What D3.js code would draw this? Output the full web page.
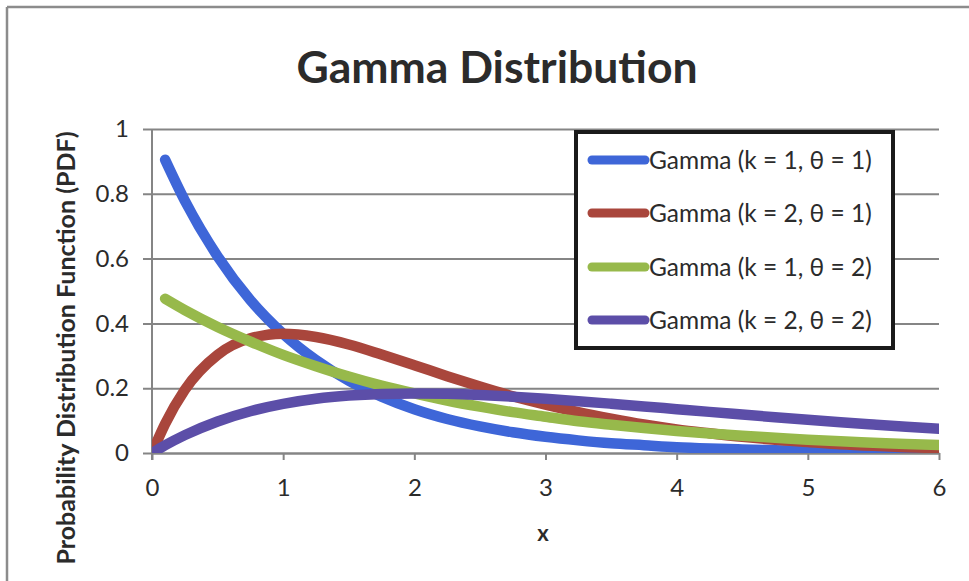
<!DOCTYPE html>
<html>
<head>
<meta charset="utf-8">
<script src="https://cdn.jsdelivr.net/npm/d3@7"></script>
<style>
  html, body { margin: 0; padding: 0; background: #fff; }
  svg { display: block; }
  text { font-family: Lato, "Open Sans", sans-serif; fill: #2b2b2b; }
</style>
</head>
<body>
<svg id="chart" width="969" height="581"></svg>
<script>
// Sample points along x
const xs = [0, 0.1, 0.25, 0.5, 0.75, 1, 1.25, 1.5, 1.75, 2, 2.25, 2.5, 2.75, 3,
            3.25, 3.5, 3.75, 4, 4.25, 4.5, 4.75, 5, 5.25, 5.5, 5.75, 6];

// PDF values per series (null = not plotted)
const gammaK1T1 = [null, 0.905, 0.779, 0.607, 0.472, 0.368, 0.287, 0.223, 0.174, 0.135,
                   0.105, 0.082, 0.064, 0.050, 0.039, 0.030, 0.024, 0.018, 0.014, 0.011,
                   0.0087, 0.0067, 0.0052, 0.0041, 0.0032, 0.0025];
const gammaK2T1 = [0, 0.090, 0.195, 0.303, 0.354, 0.368, 0.358, 0.335, 0.304, 0.271,
                   0.237, 0.205, 0.175, 0.149, 0.126, 0.106, 0.088, 0.073, 0.061, 0.050,
                   0.041, 0.034, 0.027, 0.022, 0.018, 0.015];
const gammaK1T2 = [null, 0.476, 0.441, 0.389, 0.344, 0.303, 0.268, 0.236, 0.208, 0.184,
                   0.162, 0.143, 0.126, 0.112, 0.098, 0.087, 0.077, 0.068, 0.060, 0.053,
                   0.047, 0.041, 0.036, 0.032, 0.028, 0.025];
const gammaK2T2 = [0, 0.0238, 0.0552, 0.0974, 0.1289, 0.1516, 0.1673, 0.1772, 0.1824, 0.1839,
                   0.1826, 0.1791, 0.1738, 0.1673, 0.1600, 0.1521, 0.1438, 0.1353, 0.1269, 0.1186,
                   0.1104, 0.1026, 0.0950, 0.0879, 0.0811, 0.0747];

const seriesNames = ["Gamma (k = 1, \u03b8 = 1)", "Gamma (k = 2, \u03b8 = 1)",
                     "Gamma (k = 1, \u03b8 = 2)", "Gamma (k = 2, \u03b8 = 2)"];
const seriesValues = [gammaK1T1, gammaK2T1, gammaK1T2, gammaK2T2];
const seriesColors = ["#3e66d8", "#a9463c", "#97b94b", "#5c4ea8"];

const xTicks = [0, 1, 2, 3, 4, 5, 6];
const yTicks = [0, 0.2, 0.4, 0.6, 0.8, 1];

const svg = d3.select("#chart");
const W = 969, H = 581;

// outer frame (top and left edges)
svg.append("line").attr("x1", 7).attr("y1", 7).attr("x2", W).attr("y2", 7)
  .attr("stroke", "#8c8c8c").attr("stroke-width", 2.5);
svg.append("line").attr("x1", 7).attr("y1", 7).attr("x2", 7).attr("y2", H)
  .attr("stroke", "#8c8c8c").attr("stroke-width", 2.5);

const plot = { left: 152, right: 939, top: 129, bottom: 453 };
const x = d3.scaleLinear().domain([0, 6]).range([plot.left, plot.right]);
const y = d3.scaleLinear().domain([0, 1]).range([plot.bottom, plot.top]);

// title
svg.append("text")
  .attr("x", 497).attr("y", 83)
  .attr("text-anchor", "middle")
  .style("font-size", "44.5px").style("font-weight", "bold")
  .text("Gamma Distribution");

// horizontal gridlines + y axis
const yAxis = d3.axisLeft(y).tickValues(yTicks)
  .tickSize(-(plot.right - plot.left)).tickSizeOuter(0)
  .tickFormat(d3.format("~g")).tickPadding(23);
const gy = svg.append("g").attr("transform", `translate(${plot.left},0)`).call(yAxis);
gy.select(".domain").remove();
gy.selectAll(".tick line")
  .attr("x1", -9)
  .attr("stroke", "#858585").attr("stroke-width", 2);
gy.selectAll(".tick text")
  .attr("fill", "#2b2b2b")
  .style("font-size", "24px").style("font-family", "Lato, sans-serif");

// x axis
const xAxis = d3.axisBottom(x).tickValues(xTicks)
  .tickSize(7).tickSizeOuter(0).tickPadding(19)
  .tickFormat(d3.format("d"));
const gx = svg.append("g").attr("transform", `translate(0,${plot.bottom})`).call(xAxis);
gx.select(".domain").attr("stroke", "#858585").attr("stroke-width", 2);
gx.selectAll(".tick line").attr("stroke", "#858585").attr("stroke-width", 2);
gx.selectAll(".tick text")
  .attr("fill", "#2b2b2b")
  .style("font-size", "24px").style("font-family", "Lato, sans-serif");

// vertical axis line
svg.append("line")
  .attr("x1", plot.left).attr("x2", plot.left)
  .attr("y1", plot.top).attr("y2", plot.bottom + 7)
  .attr("stroke", "#858585").attr("stroke-width", 2);

// axis titles
svg.append("text")
  .attr("x", 543).attr("y", 541)
  .attr("text-anchor", "middle")
  .style("font-size", "22px").style("font-weight", "bold")
  .text("x");
svg.append("text")
  .attr("transform", "translate(75,348) rotate(-90)")
  .attr("text-anchor", "middle")
  .style("font-size", "25px").style("font-weight", "bold")
  .text("Probability Distribution Function (PDF)");

// curves, clipped to the plot area
svg.append("clipPath").attr("id", "plotClip")
  .append("rect")
  .attr("x", plot.left).attr("y", plot.top - 20)
  .attr("width", plot.right - plot.left).attr("height", plot.bottom - plot.top + 20);

const line = d3.line()
  .defined(d => d[1] !== null)
  .x(d => x(d[0])).y(d => y(d[1]))
  .curve(d3.curveMonotoneX);

const curves = svg.append("g").attr("clip-path", "url(#plotClip)");
seriesValues.forEach((vals, i) => {
  curves.append("path")
    .datum(xs.map((xv, j) => [xv, vals[j]]))
    .attr("d", line)
    .attr("fill", "none")
    .attr("stroke", seriesColors[i])
    .attr("stroke-width", 10.5)
    .attr("stroke-linecap", "round")
    .attr("stroke-linejoin", "round");
});

// legend
const legend = svg.append("g");
legend.append("rect")
  .attr("x", 576).attr("y", 132).attr("width", 317).attr("height", 216)
  .attr("fill", "#fff").attr("stroke", "#1a1a1a").attr("stroke-width", 4);
const rowY = [160, 213, 267, 320];
seriesNames.forEach((name, i) => {
  legend.append("line")
    .attr("x1", 592).attr("x2", 645)
    .attr("y1", rowY[i]).attr("y2", rowY[i])
    .attr("stroke", seriesColors[i]).attr("stroke-width", 9)
    .attr("stroke-linecap", "round");
  legend.append("text")
    .attr("x", 649).attr("y", rowY[i])
    .attr("dy", "0.36em")
    .style("font-size", "24.5px")
    .text(name);
});
</script>
</body>
</html>
